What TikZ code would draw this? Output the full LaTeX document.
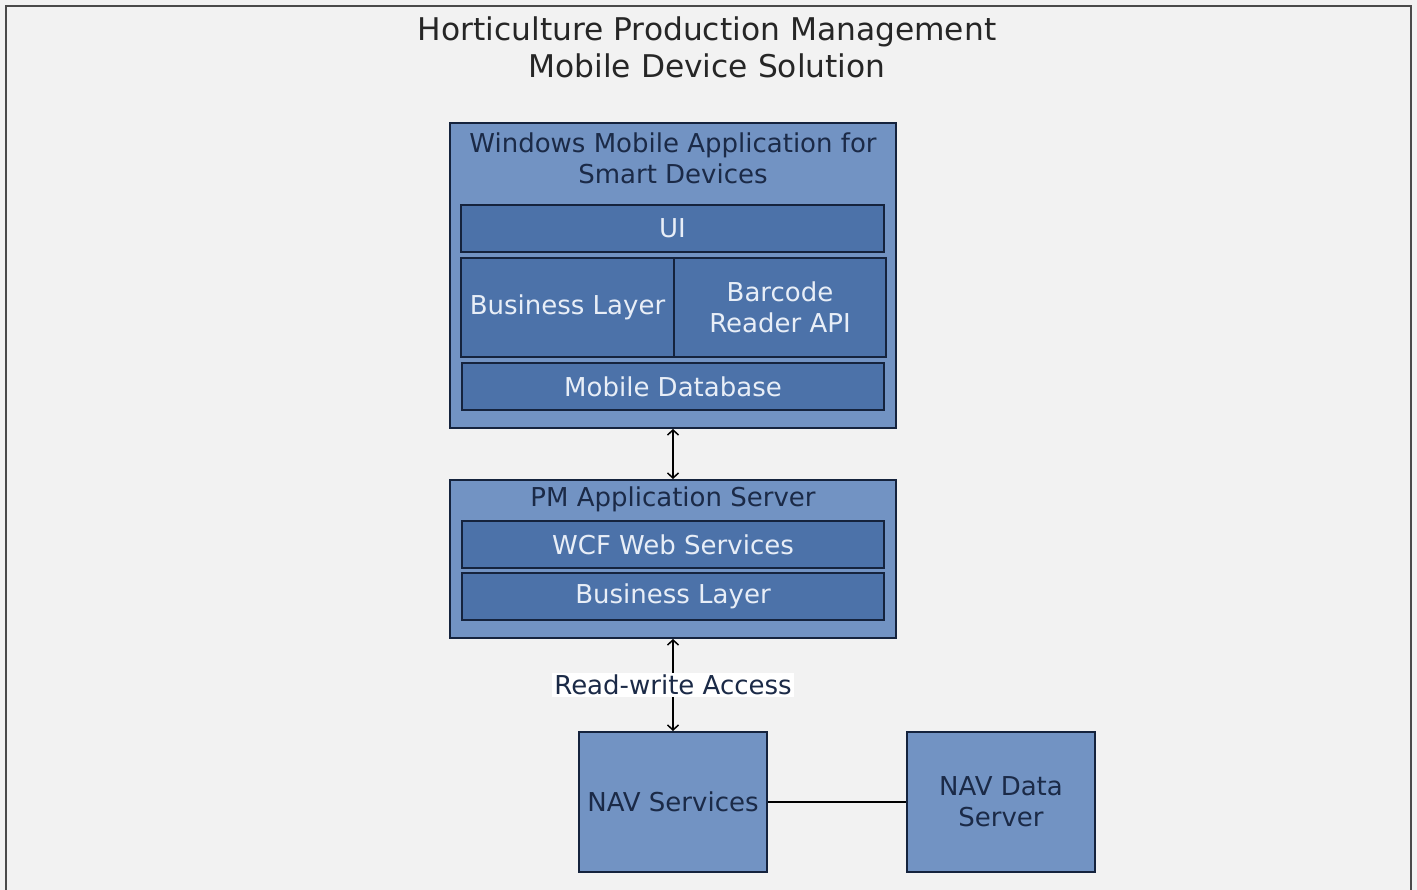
\documentclass[tikz,border=0pt]{standalone}
\usepackage{fontspec}
\setmainfont{DejaVu Sans}
\usetikzlibrary{arrows.meta}
\definecolor{bg}{HTML}{F2F2F2}
\definecolor{frame}{HTML}{4A4A4A}
\definecolor{outerfill}{HTML}{7293C3}
\definecolor{innerfill}{HTML}{4C72A9}
\definecolor{edge}{HTML}{15233D}
\definecolor{darktext}{HTML}{1B2A47}
\definecolor{lighttext}{HTML}{E8EEF7}
\tikzset{
  outerbox/.style={draw=edge, line width=2pt, fill=outerfill, inner sep=0pt},
  innerbox/.style={draw=edge, line width=2pt, fill=innerfill, inner sep=0pt, text=lighttext, font=\fontsize{26}{31}\selectfont, align=center},
  darklabel/.style={text=darktext, font=\fontsize{26}{31}\selectfont, align=center, inner sep=0pt},
  conn/.style={draw=black, line width=1.5pt, {Straight Barb[length=5pt,width=11pt]}-{Straight Barb[length=5pt,width=11pt]}},
}
\begin{document}
\begin{tikzpicture}[x=1pt,y=-1pt]
\useasboundingbox (0,0) rectangle (1417,890);
\fill[bg] (0,0) rectangle (1417,890);
\draw[frame, line width=2.5pt] (6,950) -- (6,6) -- (1411,6) -- (1411,950);

\node[text=black!85, font=\fontsize{31.3}{37}\selectfont, align=center, inner sep=0pt] (title) at (707,47)
  {Horticulture Production Management\\Mobile Device Solution};

% Windows Mobile application
\node[outerbox, minimum width=446pt, minimum height=305pt] (app) at (673,275.5) {};
\node[darklabel] (apptitle) at (673,158) {Windows Mobile Application for\\Smart Devices};
\node[innerbox, minimum width=423pt, minimum height=47pt] (ui) at (672.5,228.5) {UI};
\node[innerbox, minimum width=213pt, minimum height=99pt] (bl) at (567.5,307.5) {Business Layer};
\node[innerbox, minimum width=212pt, minimum height=99pt] (bc) at (780,307.5) {Barcode\\Reader API};
\node[innerbox, minimum width=422pt, minimum height=47pt] (db) at (673,386.5) {Mobile Database};

% PM application server
\node[outerbox, minimum width=446pt, minimum height=158pt] (pm) at (673,559) {};
\node[darklabel] (pmtitle) at (673,499) {PM Application Server};
\node[innerbox, minimum width=422pt, minimum height=47pt] (wcf) at (673,544.5) {WCF Web Services};
\node[innerbox, minimum width=422pt, minimum height=47pt] (bl2) at (673,596.5) {Business Layer};

% NAV
\node[outerbox, minimum width=188pt, minimum height=140pt, darklabel] (nav) at (673,802) {NAV Services};
\node[outerbox, minimum width=188pt, minimum height=140pt, darklabel] (navd) at (1001,802) {NAV Data\\Server};

\draw[conn] (app.south) -- (pm.north);
\draw[conn] (pm.south) -- node[fill=white, text=darktext, font=\fontsize{26}{31}\selectfont, inner sep=2pt] (rw) {Read-write Access} (nav.north);
\draw[black, line width=1.5pt] (nav.east) -- (navd.west);
\end{tikzpicture}
\end{document}
